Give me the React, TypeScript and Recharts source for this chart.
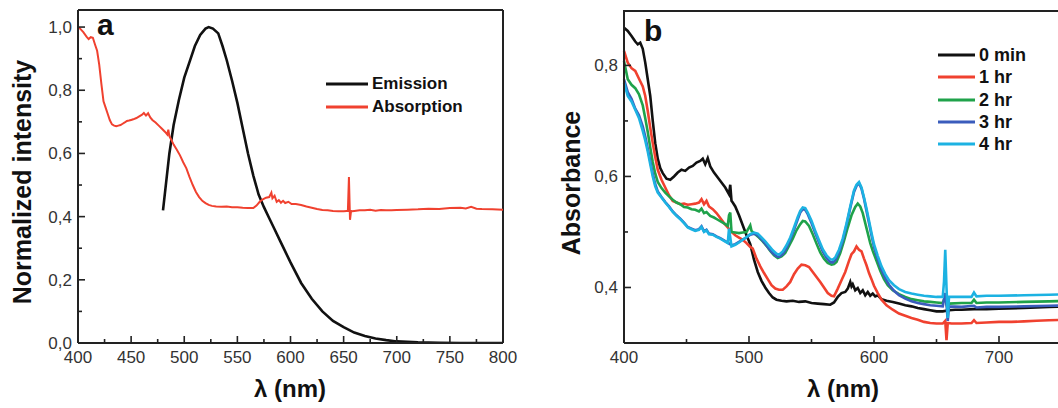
import React from 'react';
import { LineChart, Line, XAxis, YAxis, Legend, ReferenceLine } from 'recharts';

// ---- panel a: normalized emission / absorption ----
const emWl = [480, 483, 486, 490, 495, 500, 505, 510, 515, 520, 523, 527, 532, 536, 540, 545, 550, 555, 560, 565, 570, 575, 580, 585, 590, 595, 600, 610, 620, 630, 640, 650, 660, 670, 680, 690, 700, 720, 740, 760, 780, 800];
const emVal = [0.42, 0.51, 0.6, 0.69, 0.77, 0.84, 0.89, 0.94, 0.975, 0.995, 1.0, 0.995, 0.98, 0.94, 0.895, 0.83, 0.76, 0.68, 0.6, 0.53, 0.47, 0.43, 0.395, 0.36, 0.325, 0.29, 0.255, 0.19, 0.14, 0.1, 0.07, 0.05, 0.033, 0.022, 0.014, 0.009, 0.005, 0.002, 0.001, 0, 0, 0];

const absWl = [400, 402, 405, 408, 410, 412, 414, 416, 418, 420, 422, 424, 426, 428, 430, 432, 434, 436, 438, 440, 442, 444, 446, 448, 450, 452, 455, 458, 460, 462, 464, 466, 468, 470, 473, 476, 479, 482, 484, 485, 486, 488, 490, 493, 496, 499, 502, 505, 508, 511, 514, 517, 520, 523, 526, 530, 535, 540, 545, 550, 555, 560, 565, 568, 571, 574, 577, 580, 582, 583, 585, 587, 589, 591, 593, 595, 598, 601, 605, 610, 615, 620, 625, 630, 635, 640, 645, 650, 653, 654, 655, 656, 657, 658, 660, 665, 670, 675, 680, 685, 690, 695, 700, 710, 720, 730, 740, 750, 760, 765, 770, 775, 780, 790, 800];
const absVal = [1.0, 0.995, 0.984, 0.97, 0.962, 0.968, 0.966, 0.945, 0.925, 0.88, 0.82, 0.765, 0.745, 0.725, 0.705, 0.692, 0.688, 0.686, 0.688, 0.69, 0.694, 0.698, 0.703, 0.704, 0.706, 0.708, 0.712, 0.718, 0.722, 0.728, 0.72, 0.727, 0.714, 0.706, 0.698, 0.688, 0.678, 0.668, 0.66, 0.675, 0.655, 0.642, 0.628, 0.612, 0.594, 0.572, 0.553, 0.525, 0.5, 0.478, 0.462, 0.45, 0.443, 0.437, 0.434, 0.432, 0.431, 0.432, 0.43, 0.43, 0.428, 0.427, 0.427, 0.435, 0.447, 0.455, 0.46, 0.462, 0.476, 0.458, 0.466, 0.447, 0.452, 0.444, 0.45, 0.443, 0.447, 0.44, 0.44, 0.437, 0.432, 0.428, 0.424, 0.421, 0.42, 0.418, 0.417, 0.417, 0.418, 0.418, 0.525, 0.39, 0.418, 0.417, 0.418, 0.42, 0.42, 0.422, 0.419, 0.421, 0.42, 0.42, 0.421, 0.422, 0.423, 0.425, 0.424, 0.427, 0.428, 0.426, 0.431, 0.425, 0.424, 0.423, 0.422];

const seriesNamesA = ['Emission', 'Absorption'];
const xTicksA = [400, 425, 450, 475, 500, 525, 550, 575, 600, 625, 650, 675, 700, 725, 750, 775, 800];
const yTicksA = [0, 0.1, 0.2, 0.3, 0.4, 0.5, 0.6, 0.7, 0.8, 0.9, 1.0];

// ---- panel b: absorbance vs time ----
const wl0 = [400, 403, 406, 409, 411, 413, 415, 417, 419, 421, 423, 425, 427, 429, 431, 434, 437, 440, 443, 446, 449, 452, 455, 458, 461, 463, 465, 467, 469, 472, 475, 478, 481, 484, 485, 486, 487, 489, 492, 495, 498, 501, 504, 507, 510, 513, 516, 519, 522, 526, 530, 535, 540, 545, 550, 555, 560, 565, 568, 571, 574, 577, 579, 581, 582, 583, 585, 587, 589, 591, 593, 595, 597, 599, 601, 603, 606, 610, 615, 620, 625, 630, 635, 640, 645, 650, 655, 660, 665, 670, 680, 690, 700, 720, 740, 760, 780, 800];
const abs0 = [0.868, 0.862, 0.853, 0.843, 0.838, 0.841, 0.83, 0.805, 0.775, 0.745, 0.7, 0.66, 0.632, 0.615, 0.606, 0.596, 0.594, 0.6, 0.607, 0.612, 0.61, 0.616, 0.619, 0.625, 0.628, 0.632, 0.622, 0.633, 0.618, 0.607, 0.598, 0.589, 0.58, 0.568, 0.585, 0.556, 0.553, 0.546, 0.53, 0.512, 0.494, 0.478, 0.45, 0.428, 0.412, 0.4, 0.39, 0.382, 0.378, 0.376, 0.375, 0.376, 0.374, 0.375, 0.372, 0.371, 0.37, 0.369, 0.373, 0.383, 0.39, 0.392, 0.398, 0.41, 0.402, 0.406, 0.395, 0.399, 0.39, 0.395, 0.386, 0.392, 0.385, 0.389, 0.384, 0.386, 0.379, 0.376, 0.374, 0.371, 0.368, 0.366, 0.363, 0.361, 0.359, 0.357, 0.357, 0.359, 0.36, 0.36, 0.361, 0.361, 0.362, 0.363, 0.365, 0.366, 0.366, 0.367];

const wl1 = [400, 403, 406, 409, 412, 415, 417, 419, 421, 423, 425, 427, 430, 433, 436, 439, 442, 445, 448, 451, 454, 457, 460, 462, 464, 466, 468, 471, 474, 477, 480, 483, 486, 489, 492, 495, 498, 501, 503, 506, 509, 512, 515, 518, 521, 524, 527, 530, 533, 536, 539, 542, 545, 548, 551, 554, 557, 560, 563, 566, 568, 571, 574, 577, 580, 582, 584, 586, 588, 590, 592, 594, 596, 598, 600, 603, 606, 610, 615, 620, 625, 630, 635, 640, 645, 650, 655, 657, 658, 659, 662, 670, 678, 680, 682, 690, 700, 710, 720, 730, 740, 760, 780, 800];
const abs1 = [0.826, 0.805, 0.795, 0.79, 0.776, 0.762, 0.745, 0.718, 0.688, 0.66, 0.635, 0.612, 0.594, 0.58, 0.566, 0.556, 0.553, 0.55, 0.551, 0.549, 0.55, 0.551, 0.553, 0.559, 0.55, 0.556, 0.546, 0.541, 0.534, 0.525, 0.516, 0.508, 0.5, 0.494, 0.49, 0.486, 0.48, 0.473, 0.47, 0.452, 0.438, 0.426, 0.415, 0.404, 0.398, 0.396, 0.396, 0.402, 0.41, 0.424, 0.434, 0.441, 0.44, 0.437, 0.428, 0.419, 0.41, 0.4, 0.39, 0.385, 0.384, 0.398, 0.413, 0.428, 0.448, 0.46, 0.465, 0.474, 0.468, 0.465, 0.452, 0.44, 0.426, 0.415, 0.403, 0.39, 0.378, 0.368, 0.36, 0.353, 0.349, 0.345, 0.342, 0.338, 0.336, 0.335, 0.335, 0.34, 0.305, 0.336, 0.335, 0.335, 0.336, 0.341, 0.336, 0.337, 0.338, 0.338, 0.339, 0.34, 0.341, 0.342, 0.343, 0.344];

const wl2 = [400, 403, 406, 409, 412, 415, 417, 419, 421, 423, 425, 427, 430, 433, 436, 439, 442, 445, 448, 451, 454, 457, 460, 462, 464, 466, 469, 472, 475, 478, 481, 483, 484, 485, 486, 489, 492, 495, 498, 500, 501, 502, 505, 508, 511, 514, 517, 520, 523, 526, 529, 532, 535, 538, 541, 543, 545, 548, 551, 554, 557, 560, 563, 566, 568, 570, 573, 576, 579, 582, 585, 587, 589, 591, 593, 595, 597, 599, 602, 605, 608, 611, 615, 620, 625, 630, 635, 640, 645, 650, 655, 657, 658, 659, 660, 670, 678, 680, 682, 690, 700, 720, 740, 760, 780, 800];
const abs2 = [0.808, 0.775, 0.765, 0.759, 0.748, 0.728, 0.705, 0.68, 0.652, 0.626, 0.605, 0.59, 0.579, 0.571, 0.564, 0.558, 0.553, 0.55, 0.545, 0.544, 0.541, 0.54, 0.537, 0.542, 0.534, 0.536, 0.529, 0.526, 0.522, 0.518, 0.514, 0.511, 0.53, 0.535, 0.5, 0.499, 0.498, 0.499, 0.5, 0.508, 0.512, 0.502, 0.496, 0.49, 0.483, 0.475, 0.466, 0.458, 0.453, 0.456, 0.462, 0.475, 0.488, 0.503, 0.514, 0.52, 0.519, 0.511, 0.496, 0.479, 0.463, 0.452, 0.444, 0.441, 0.442, 0.446, 0.462, 0.484, 0.508, 0.53, 0.545, 0.551, 0.546, 0.534, 0.516, 0.498, 0.48, 0.466, 0.448, 0.43, 0.415, 0.404, 0.395, 0.388, 0.383, 0.379, 0.377, 0.375, 0.374, 0.373, 0.372, 0.385, 0.37, 0.362, 0.371, 0.372, 0.372, 0.378, 0.372, 0.373, 0.373, 0.374, 0.375, 0.376, 0.377, 0.378];

const wl3 = [400, 403, 406, 409, 412, 415, 417, 419, 421, 423, 425, 427, 430, 433, 436, 439, 442, 445, 448, 451, 454, 457, 460, 462, 464, 466, 468, 471, 474, 477, 480, 483, 486, 489, 492, 495, 498, 501, 504, 507, 510, 513, 516, 519, 522, 524, 527, 530, 533, 536, 539, 541, 543, 545, 547, 550, 553, 556, 559, 562, 565, 567, 569, 572, 575, 578, 581, 584, 586, 588, 590, 592, 594, 596, 598, 600, 603, 606, 609, 612, 616, 620, 625, 630, 635, 640, 645, 650, 655, 657, 658, 659, 660, 670, 680, 682, 690, 700, 720, 740, 760, 780, 800];
const abs3 = [0.775, 0.752, 0.74, 0.722, 0.71, 0.69, 0.672, 0.65, 0.628, 0.605, 0.586, 0.573, 0.563, 0.554, 0.546, 0.537, 0.53, 0.524, 0.517, 0.509, 0.506, 0.503, 0.505, 0.51, 0.501, 0.504, 0.497, 0.496, 0.492, 0.489, 0.485, 0.481, 0.476, 0.478, 0.482, 0.486, 0.49, 0.495, 0.497, 0.494, 0.487, 0.479, 0.47, 0.462, 0.456, 0.455, 0.46, 0.471, 0.486, 0.504, 0.523, 0.535, 0.541, 0.54, 0.532, 0.516, 0.498, 0.481, 0.465, 0.453, 0.446, 0.445, 0.449, 0.463, 0.484, 0.512, 0.543, 0.572, 0.583, 0.588, 0.578, 0.56, 0.538, 0.516, 0.494, 0.473, 0.451, 0.432, 0.417, 0.405, 0.394, 0.386, 0.38, 0.375, 0.372, 0.37, 0.368, 0.367, 0.366, 0.39, 0.37, 0.34, 0.366, 0.365, 0.367, 0.364, 0.365, 0.365, 0.366, 0.367, 0.368, 0.369, 0.37];

const wl4 = [400, 403, 406, 409, 412, 415, 417, 419, 421, 423, 425, 427, 430, 433, 436, 439, 442, 445, 448, 451, 454, 457, 460, 462, 464, 466, 468, 471, 474, 477, 480, 483, 484, 485, 486, 489, 492, 495, 498, 501, 504, 507, 510, 513, 516, 519, 522, 524, 527, 530, 533, 536, 539, 541, 543, 545, 547, 550, 553, 556, 559, 562, 565, 567, 569, 572, 575, 578, 581, 584, 586, 588, 590, 592, 594, 596, 598, 600, 603, 606, 609, 612, 616, 620, 625, 630, 635, 640, 645, 650, 655, 656, 657, 658, 659, 660, 670, 678, 680, 682, 690, 700, 720, 740, 760, 780, 800];
const abs4 = [0.769, 0.745, 0.735, 0.72, 0.705, 0.682, 0.665, 0.645, 0.622, 0.6, 0.582, 0.571, 0.562, 0.553, 0.545, 0.536, 0.529, 0.523, 0.516, 0.508, 0.505, 0.502, 0.504, 0.509, 0.5, 0.503, 0.496, 0.495, 0.491, 0.488, 0.484, 0.48, 0.506, 0.49, 0.474, 0.477, 0.481, 0.486, 0.491, 0.496, 0.499, 0.497, 0.49, 0.483, 0.475, 0.467, 0.461, 0.459, 0.465, 0.476, 0.49, 0.508, 0.527, 0.538, 0.544, 0.543, 0.535, 0.52, 0.502, 0.485, 0.469, 0.458, 0.451, 0.45, 0.454, 0.468, 0.488, 0.515, 0.546, 0.575, 0.585, 0.59, 0.58, 0.562, 0.542, 0.52, 0.498, 0.478, 0.457, 0.438, 0.424, 0.413, 0.404, 0.397, 0.392, 0.389, 0.387, 0.385, 0.384, 0.383, 0.383, 0.41, 0.468, 0.4, 0.345, 0.383, 0.383, 0.383, 0.391, 0.384, 0.385, 0.385, 0.386, 0.387, 0.388, 0.389, 0.39];

const seriesNamesB = ['0 min', '1 hr', '2 hr', '3 hr', '4 hr'];
const seriesColorsB = ['#111111', '#f0412f', '#1fa24a', '#3a5cbc', '#1cb2e2'];
const xTicksB = [400, 450, 500, 550, 600, 650, 700, 750];
const yTicksB = [0.4, 0.5, 0.6, 0.7, 0.8];

const zip = (xs: number[], ys: number[]) => xs.map((wl, i) => ({ wl, v: ys[i] }));

const FONT = '"Liberation Sans", Arial, sans-serif';
const AXIS = '#222';
const fmt = (v: number) => v.toFixed(1).replace('.', ',');

// ticks point inward; majors longer and labelled, minors short
const makeXTick = (isMajor: (v: number) => boolean) => (props: any) => {
  const { x, y, payload } = props;
  const major = isMajor(payload.value);
  return (
    <g>
      <line x1={x} y1={y} x2={x} y2={y - (major ? 7 : 4)} stroke={AXIS} strokeWidth={1.6} />
      {major && (
        <text x={x} y={y + 20} textAnchor="middle" fontSize={17} fill="#333" fontFamily={FONT}>
          {payload.value}
        </text>
      )}
    </g>
  );
};

const makeYTick = (isMajor: (v: number) => boolean) => (props: any) => {
  const { x, y, payload } = props;
  const major = isMajor(payload.value);
  return (
    <g>
      <line x1={x} y1={y} x2={x + (major ? 7 : 4)} y2={y} stroke={AXIS} strokeWidth={1.6} />
      {major && (
        <text x={x - 6} y={y + 6} textAnchor="end" fontSize={17} fill="#333" fontFamily={FONT}>
          {fmt(payload.value)}
        </text>
      )}
    </g>
  );
};

const legendContent = (rowH: number, lineW: number, fontSize: number) => (props: any) => (
  <div style={{ fontFamily: FONT }}>
    {(props.payload || []).map((p: any) => (
      <div key={p.value} style={{ display: 'flex', alignItems: 'center', height: rowH }}>
        <svg width={lineW} height={6}>
          <line x1={0} y1={3} x2={lineW} y2={3} stroke={p.color} strokeWidth={3} />
        </svg>
        <span style={{ marginLeft: 4, fontWeight: 'bold', fontSize, color: '#111', lineHeight: 1 }}>{p.value}</span>
      </div>
    ))}
  </div>
);

const axisCommon = {
  tickSize: 0,
  tickMargin: 0,
  interval: 0 as const,
  tickLine: false,
  axisLine: { stroke: AXIS, strokeWidth: 2 },
};

const PanelA: React.FC = () => (
  <LineChart width={530} height={408} margin={{ top: 10, right: 27, bottom: 0, left: 0 }}>
    <XAxis type="number" dataKey="wl" domain={[400, 800]} ticks={xTicksA} height={65}
      {...axisCommon} tick={makeXTick((v) => v % 50 === 0)} />
    <YAxis type="number" domain={[0, 1.054]} ticks={yTicksA} width={78} allowDataOverflow
      {...axisCommon} tick={makeYTick((v) => Math.round(v * 10) % 2 === 0)} />
    <ReferenceLine y={1.054} stroke={AXIS} strokeWidth={2} ifOverflow="visible" />
    <ReferenceLine x={800} stroke={AXIS} strokeWidth={2} ifOverflow="visible" />
    <Legend
      layout="vertical" align="center" verticalAlign="middle"
      itemSorter={(item: any) => seriesNamesA.indexOf(item.value)}
      wrapperStyle={{ position: 'absolute', left: 326, top: 72, width: 'auto' }}
      content={legendContent(23, 42, 17)}
    />
    <Line data={zip(emWl, emVal)} dataKey="v" name={seriesNamesA[0]} stroke="#111111" strokeWidth={2.6}
      dot={false} isAnimationActive={false} type="linear" />
    <Line data={zip(absWl, absVal)} dataKey="v" name={seriesNamesA[1]} stroke="#f0412f" strokeWidth={2}
      dot={false} isAnimationActive={false} type="linear" />
  </LineChart>
);

const seriesB = [zip(wl0, abs0), zip(wl1, abs1), zip(wl2, abs2), zip(wl3, abs3), zip(wl4, abs4)];

const PanelB: React.FC = () => (
  <LineChart width={600} height={408} margin={{ top: 11, right: 6, bottom: 0, left: 0 }}>
    <XAxis type="number" dataKey="wl" domain={[400, 800]} ticks={xTicksB} height={65}
      {...axisCommon} tick={makeXTick((v) => v % 100 === 0)} />
    <YAxis type="number" domain={[0.3, 0.898]} ticks={yTicksB} width={94} allowDataOverflow
      {...axisCommon} tick={makeYTick((v) => Math.round(v * 10) % 2 === 0)} />
    <ReferenceLine y={0.898} stroke={AXIS} strokeWidth={2} ifOverflow="visible" />
    <Legend
      layout="vertical" align="center" verticalAlign="middle"
      itemSorter={(item: any) => seriesNamesB.indexOf(item.value)}
      wrapperStyle={{ position: 'absolute', left: 408, top: 44, width: 'auto' }}
      content={legendContent(22.3, 37, 18)}
    />
    {seriesB.map((d, i) => (
      <Line key={seriesNamesB[i]} data={d} dataKey="v" name={seriesNamesB[i]} stroke={seriesColorsB[i]}
        strokeWidth={2.6} dot={false} isAnimationActive={false} type="linear" />
    ))}
  </LineChart>
);

export default function App() {
  return (
    <div style={{ position: 'fixed', left: 0, top: 0, width: 1058, height: 408, overflow: 'hidden', background: '#fff', fontFamily: FONT }}>
      <div style={{ position: 'absolute', left: 0, top: 0 }}>
        <PanelA />
      </div>
      <div style={{ position: 'absolute', left: 530, top: 0 }}>
        <PanelB />
      </div>
      <svg width={1058} height={408} style={{ position: 'absolute', left: 0, top: 0, pointerEvents: 'none' }} fontFamily={FONT}>
        {/* top edge of panel b's frame; its right edge lies outside the picture */}
        <line x1={623} y1={11} x2={1058} y2={11} stroke={AXIS} strokeWidth={2} />
        <text x={97} y={35} fontSize={30} fontWeight="bold" fill="#111">a</text>
        <text x={644} y={41} fontSize={30} fontWeight="bold" fill="#111">b</text>
        <text x={22} y={182} fontSize={25} fontWeight="bold" fill="#111" textAnchor="middle" dominantBaseline="central" transform="rotate(-90 22 182)">Normalized intensity</text>
        <text x={571} y={183} fontSize={25} fontWeight="bold" fill="#111" textAnchor="middle" dominantBaseline="central" transform="rotate(-90 571 183)">Absorbance</text>
        <text x={290} y={397} fontSize={24} fontWeight="bold" fill="#111" textAnchor="middle">λ (nm)</text>
        <text x={843} y={397} fontSize={24} fontWeight="bold" fill="#111" textAnchor="middle">λ (nm)</text>
      </svg>
    </div>
  );
}
